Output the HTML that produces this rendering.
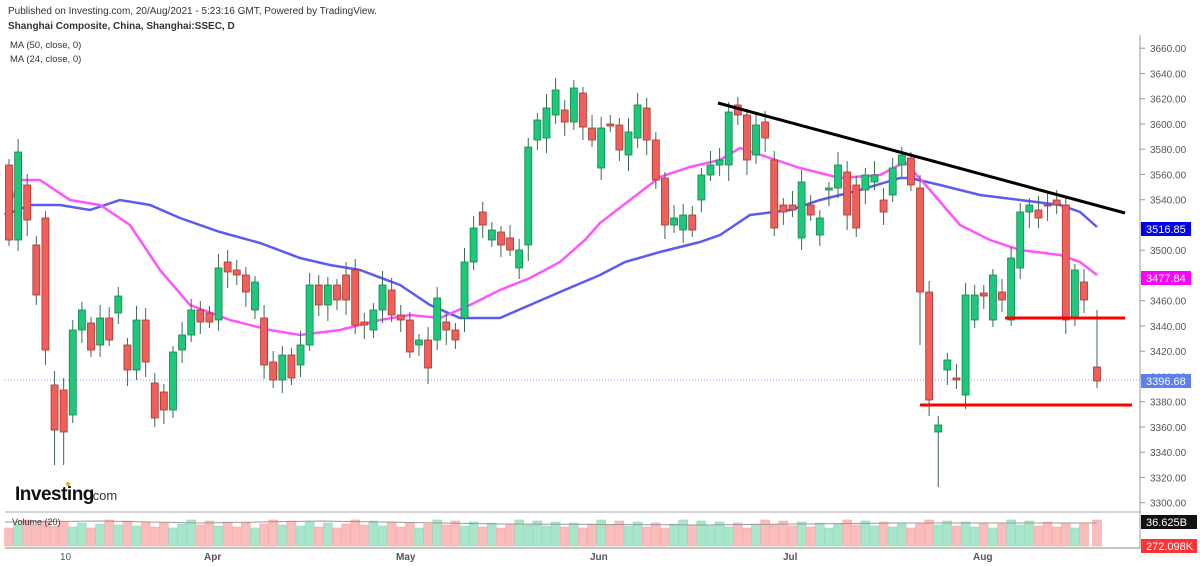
<!DOCTYPE html>
<html><head><meta charset="utf-8"><style>
body{margin:0;background:#fff;width:1200px;height:566px;overflow:hidden;font-family:"Liberation Sans",sans-serif}
svg{position:absolute;left:0;top:0}
</style></head><body>
<svg id="s" width="1200" height="566" xmlns="http://www.w3.org/2000/svg" font-family="Liberation Sans, sans-serif">
<text x="8" y="14" font-size="10" fill="#333">Published on Investing.com, 20/Aug/2021 - 5:23:16 GMT, Powered by TradingView.</text>
<text x="8" y="29" font-size="10" font-weight="bold" fill="#333">Shanghai Composite, China, Shanghai:SSEC, D</text>
<text x="10" y="48" font-size="9.5" fill="#333">MA (50, close, 0)</text>
<text x="10" y="62" font-size="9.5" fill="#333">MA (24, close, 0)</text>
<line x1="1140" y1="35" x2="1140" y2="548" stroke="#999"/>
<line x1="5" y1="512" x2="1140" y2="512" stroke="#aaa"/>
<line x1="5" y1="548" x2="1140" y2="548" stroke="#888"/>
<line x1="5" y1="380" x2="1140" y2="380" stroke="#5a7ff0" stroke-width="0.8" stroke-dasharray="1,2"/>
<g id="ax" font-size="10" fill="#555"></g>
<g id="vol"></g>
<polyline fill="none" stroke="#5b5bf0" stroke-width="2.5" points="5,215 30,205 60,205 90,210 120,200 150,205 180,218 220,232 260,243 300,258 330,265 360,270 400,285 430,305 460,318 500,318 530,305 560,292 600,275 625,262 660,252 700,242 720,235 750,215 790,210 820,200 860,190 900,178 910,178 940,185 980,195 1020,200 1060,205 1080,212 1097,227"/>
<polyline fill="none" stroke="#ff55ff" stroke-width="2.5" points="5,215 20,180 40,180 70,200 100,205 130,225 160,270 190,305 230,320 270,330 300,335 340,330 380,320 410,315 440,318 470,305 500,290 530,278 560,262 585,240 600,223 630,200 660,177 690,167 720,160 740,148 770,158 800,168 840,178 880,175 905,162 930,190 960,225 990,240 1020,250 1060,255 1080,262 1097,275"/>
<g id="c"></g>
<line x1="718" y1="103" x2="1125" y2="213" stroke="#000" stroke-width="3"/>
<line x1="1005" y1="318" x2="1125" y2="318" stroke="#f00" stroke-width="3"/>
<line x1="920" y1="405" x2="1132" y2="405" stroke="#f00" stroke-width="3"/>
<rect x="1141" y="222" width="50" height="14" fill="#0000ee"/><text x="1146" y="233" font-size="11" fill="#fff">3516.85</text>
<rect x="1141" y="271" width="50" height="14" fill="#ff00ff"/><text x="1146" y="282" font-size="11" fill="#fff">3477.84</text>
<rect x="1141" y="374" width="50" height="14" fill="#5a7ff0"/><text x="1146" y="385" font-size="11" fill="#fff">3396.68</text>
<rect x="1141" y="515" width="56" height="14" fill="#111"/><text x="1146" y="526" font-size="11" fill="#fff">36.625B</text>
<rect x="1141" y="539" width="56" height="14" fill="#ff3333"/><text x="1146" y="550" font-size="11" fill="#fff">272.098K</text>
<text x="15" y="500" font-size="19" font-weight="bold" fill="#111" letter-spacing="-0.5">Investing</text><text x="89" y="500" font-size="13" fill="#333">.com</text>
<circle cx="68" cy="484" r="2" fill="#f5a623"/>
<text x="12" y="525" font-size="9" fill="#333">Volume (20)</text>
<g font-size="10" fill="#555"><text x="60" y="560">10</text><text x="204" y="560" font-weight="bold">Apr</text><text x="396" y="560" font-weight="bold">May</text><text x="590" y="560" font-weight="bold">Jun</text><text x="783" y="560" font-weight="bold">Jul</text><text x="973" y="560" font-weight="bold">Aug</text></g>
</svg>
<script>
(function(){
var NS="http://www.w3.org/2000/svg";
function el(p,t,a){var e=document.createElementNS(NS,t);for(var k in a)e.setAttribute(k,a[k]);p.appendChild(e);return e;}
var ax=document.getElementById("ax");
for(var p=3300;p<=3660;p+=20){var y=199.7+(3540-p)*1.2625;el(ax,"line",{x1:1140,x2:1145,y1:y,y2:y,stroke:"#999"});var t=el(ax,"text",{x:1150,y:y+4});t.textContent=p.toFixed(2);}
var d=[[165,240],[240,152],[185,220],[245,295],[218,350],[385,430],[390,432],[415,330],[330,310],[323,350],[345,318],[318,340],[313,296],[345,370],[370,320],[320,362],[383,418],[392,410],[410,352],[350,335],[335,310],[310,322],[313,322],[320,268],[262,272],[270,275],[275,292],[310,282],[318,365],[362,380],[380,355],[355,378],[365,345],[345,285],[285,305],[305,285],[285,300],[275,300],[270,325],[322,325],[330,310],[310,285],[290,315],[315,320],[320,352],[345,340],[340,368],[340,298],[322,330],[330,340],[318,262],[262,228],[212,225],[240,230],[232,245],[238,250],[268,250],[245,147],[140,120],[138,108],[115,90],[110,122],[122,88],[93,127],[128,140],[168,128],[124,126],[125,150],[155,132],[138,105],[108,140],[140,180],[178,225],[225,218],[230,215],[215,230],[200,175],[175,165],[165,160],[165,112],[105,115],[115,160],[155,125],[122,138],[160,228],[205,212],[205,210],[238,182],[205,215],[235,218],[190,188],[188,165],[172,215],[185,228],[190,175],[182,175],[200,212],[195,168],[165,155],[158,185],[188,292],[292,400],[432,425],[370,360],[378,380],[395,295],[320,295],[293,296],[320,275],[292,300],[320,258],[268,212],[212,205],[210,218],[205,206],[200,205],[205,320],[318,270],[282,300],[367,381]];
var c=document.getElementById("c"),v=document.getElementById("vol");
var n=d.length;
for(var i=0;i<n;i++){
 var x=(i==n-1)?1097:9+i*((1084-9)/(n-2));
 var o=d[i][0],cl=d[i][1],up=cl<o;
 var bt=Math.min(o,cl),bb=Math.max(o,cl);
 var hi=bt-6-(i*7%9),lo=bb+6+(i*5%11);
 if(i==102){lo=487;} if(i==100){lo=345;} if(i==6||i==5){lo=465;} if(i==n-1){hi=310;}
 el(c,"line",{x1:x,x2:x,y1:hi,y2:lo,stroke:"#3d6b4f","stroke-width":1});
 el(c,"rect",{x:x-3.5,y:bt,width:7,height:Math.max(bb-bt,1),fill:up?"#1fc77a":"#f0605a",stroke:up?"#16844f":"#a33","stroke-width":0.8});
 var vh=18+((i*13)%9);
 el(v,"rect",{x:x-4.5,y:546-vh,width:9,height:vh,fill:up?"#a8e6cc":"#fbbcbc",stroke:up?"#8bd8b7":"#f5a5a5","stroke-width":0.5});
}
el(v,"polyline",{points:"5,522 100,521 200,523 320,521 500,524 700,525 900,523 1097,523",fill:"none",stroke:"#999","stroke-width":1});
})();
</script>
</body></html>
